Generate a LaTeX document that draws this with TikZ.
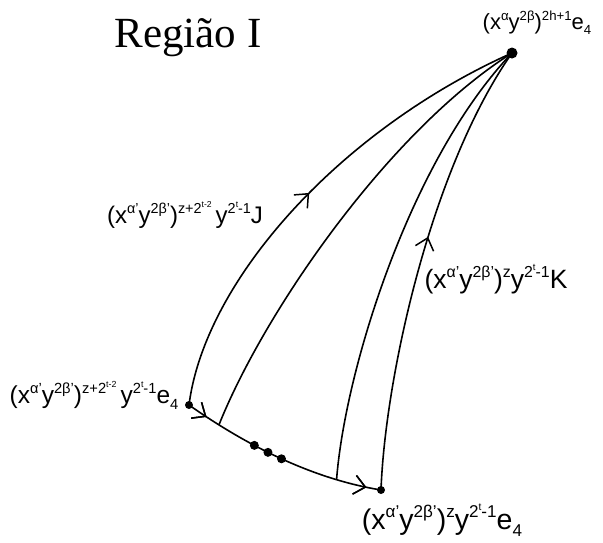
\documentclass[tikz,border=0pt]{standalone}
\usepackage{fontspec}
\setmainfont{Liberation Sans}
\newfontfamily\titlefont{Liberation Serif}
\usetikzlibrary{arrows.meta,decorations.markings}
\newcommand\myup[1]{\raisebox{0.42em}{\scalebox{0.6}{#1}}}
\newcommand\mydn[1]{\raisebox{-0.22em}{\scalebox{0.6}{#1}}}
\tikzset{
  curve/.style={line width=1.6pt},
  barb/.style={postaction={decorate},decoration={markings,
    mark=at position #1 with {\arrow{Straight Barb[length=11pt,width=19pt,line width=1.5pt]}}}},
  dotpt/.style={circle,fill=black,inner sep=0pt,minimum size=#1},
  lab/.style={inner sep=0pt,font=\fontsize{#1}{#1}\selectfont},
}
\begin{document}
\begin{tikzpicture}[x=1pt,y=-1pt]
\useasboundingbox (0,0) rectangle (603,542);
\coordinate (P) at (512,53);
\coordinate (A) at (189,405);
\coordinate (B) at (381,490);
% bottom arc
\draw[curve,barb=0.1,barb=0.93] (A) .. controls (256,452) and (320,480) .. (B)
  coordinate[pos=0.15] (C1)
  coordinate[pos=0.76] (D)
  node[dotpt=9pt,pos=0.33] (d1) {}
  node[dotpt=9pt,pos=0.40] (d2) {}
  node[dotpt=9pt,pos=0.47] (d3) {};
% curves to the top point
\draw[curve,barb=0.5] (A) .. controls (205,280) and (340,130) .. (P);
\draw[curve] (C1) .. controls (265,310) and (390,130) .. (P);
\draw[curve] (D) .. controls (345,370) and (410,160) .. (P);
\draw[curve,barb=0.56] (B) .. controls (385,380) and (430,170) .. (P);
\node[dotpt=11pt] (Pd) at (P) {};
\node[dotpt=8pt] (Ad) at (A) {};
\node[dotpt=8pt] (Bd) at (B) {};
% labels
\node[inner sep=0pt,font=\titlefont\fontsize{43}{48}\selectfont] (title) at (188,38) {Região I};
\node[lab=22] (lP) at (537,23) {(x\myup{α}y\myup{2β})\myup{2h+1}e\mydn{4}};
\node[lab=24] (lJ) at (185,215) {(x\myup{α'}y\myup{2β'})\myup{z+2\myup{t-2}}\,y\myup{2\myup{t}-1}J};
\node[lab=26.5] (lK) at (496,279) {(x\myup{α'}y\myup{2β'})\myup{z}y\myup{2\myup{t}-1}K};
\node[lab=24.5] (lA) at (94,395) {(x\myup{α'}y\myup{2β'})\myup{z+2\myup{t-2}}\,y\myup{2\myup{t}-1}e\mydn{4}};
\node[lab=28.5] (lB) at (442,520) {(x\myup{α'}y\myup{2β'})\myup{z}y\myup{2\myup{t}-1}e\mydn{4}};
\end{tikzpicture}
\end{document}
